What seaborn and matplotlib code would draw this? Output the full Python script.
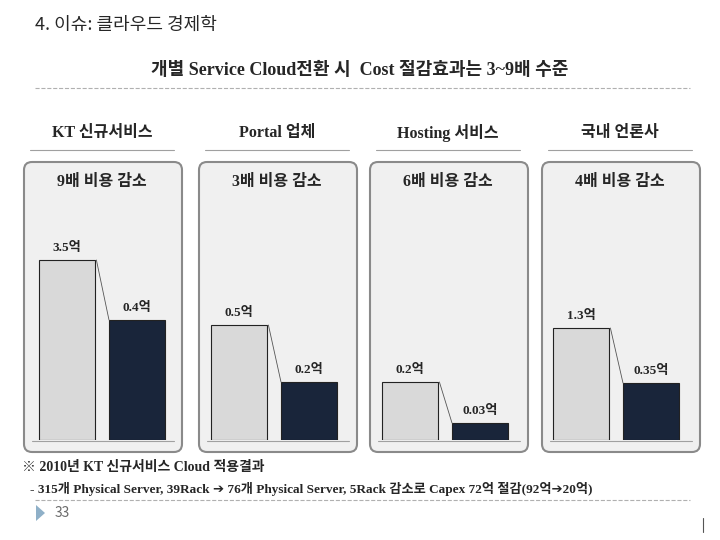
import matplotlib
matplotlib.use("Agg")
import matplotlib.pyplot as plt
import seaborn as sns
import pandas as pd
from matplotlib.patches import FancyBboxPatch, Polygon

# data
services = ["KT 신규서비스", "Portal 업체", "Hosting 서비스", "국내 언론사"]
reductions = ["9배 비용 감소", "3배 비용 감소", "6배 비용 감소", "4배 비용 감소"]
cost_before = [3.5, 0.5, 0.2, 1.3]
cost_after = [0.4, 0.2, 0.03, 0.35]
before_labels = ["3.5억", "0.5억", "0.2억", "1.3억"]
after_labels = ["0.4억", "0.2억", "0.03억", "0.35억"]
# bar heights as drawn on the slide (not to scale), in pixels
height_before = [180, 115, 58, 112]
height_after = [120, 58, 17, 57]

sns.set_theme(style="white")
plt.rcParams['font.family'] = ['Liberation Serif', 'Noto Sans CJK KR', 'DejaVu Sans']
SANS = ['Noto Sans CJK KR', 'DejaVu Sans']

fig = plt.figure(figsize=(7.2, 5.4), dpi=100)
bg = fig.add_axes([0, 0, 1, 1])
bg.set_xlim(0, 720)
bg.set_ylim(540, 0)
bg.axis("off")

bg.text(35, 25, "4. 이슈: 클라우드 경제학", family=SANS, fontsize=13, va="center")
bg.text(360, 70, "개별 Service Cloud전환 시  Cost 절감효과는 3~9배 수준", fontsize=13,
        fontweight="bold", ha="center", va="center")
bg.plot([35, 690], [88, 88], ls="--", color="#b0b0b0", lw=0.8)

box_left = [22, 197, 368, 540]
centers = [67, 239, 410, 581]
for i in range(4):
    x0 = box_left[i]
    bg.add_patch(FancyBboxPatch((x0 + 2, 162), 158, 290, boxstyle="round,pad=0,rounding_size=8",
                                fc="#f0f0f0", ec="#8a8a8a", lw=1.5, zorder=0))
    bg.text(x0 + 80, 133, services[i], fontsize=11.5, fontweight="bold", ha="center", va="center")
    bg.plot([x0 + 8, x0 + 152], [150, 150], color="#a0a0a0", lw=0.8)
    bg.text(x0 + 80, 182, reductions[i], fontsize=11.5, fontweight="bold", ha="center", va="center")
    bg.plot([x0 + 10, x0 + 152], [441, 441], color="#a0a0a0", lw=0.8)

    ax = fig.add_axes([(centers[i] - 35) / 720, 100 / 540, 140 / 720, 240 / 540])
    df = pd.DataFrame({"구분": ["전", "후"], "h": [height_before[i], height_after[i]]})
    sns.barplot(data=df, x="구분", y="h", hue="구분",
                palette=["#d9d9d9", "#13243f"], width=0.8, legend=False,
                edgecolor="#222222", linewidth=0.8, ax=ax)
    ax.set_xlim(-0.5, 1.5)
    ax.set_ylim(0, 240)
    ax.axis("off")
    ax.patch.set_alpha(0)
    ax.plot([0.42, 0.6], [height_before[i], height_after[i]], color="#555555", lw=0.6)
    ax.text(0, height_before[i] + 6, before_labels[i], ha="center", va="bottom",
            fontsize=9.5, fontweight="bold")
    ax.text(1, height_after[i] + 6, after_labels[i], ha="center", va="bottom",
            fontsize=9.5, fontweight="bold")

bg.text(22, 468, "※ 2010년 KT 신규서비스 Cloud 적용결과", fontsize=10, fontweight="bold", va="center")
bg.text(30, 489, "- 315개 Physical Server, 39Rack ➔ 76개 Physical Server, 5Rack 감소로 Capex 72억 절감(92억➔20억)",
        fontsize=9.5, fontweight="bold", va="center")
bg.plot([35, 690], [500, 500], ls="--", color="#b0b0b0", lw=0.8)
bg.add_patch(Polygon([[36, 505], [36, 521], [45, 513]], closed=True, fc="#8fb0c8", ec="none"))
bg.text(55, 513, "33", family=SANS, fontsize=10, color="#6a6a6a", va="center")
bg.plot([703, 703], [518, 532], color="#555555", lw=0.8)

fig.savefig("out.png", dpi=100)
